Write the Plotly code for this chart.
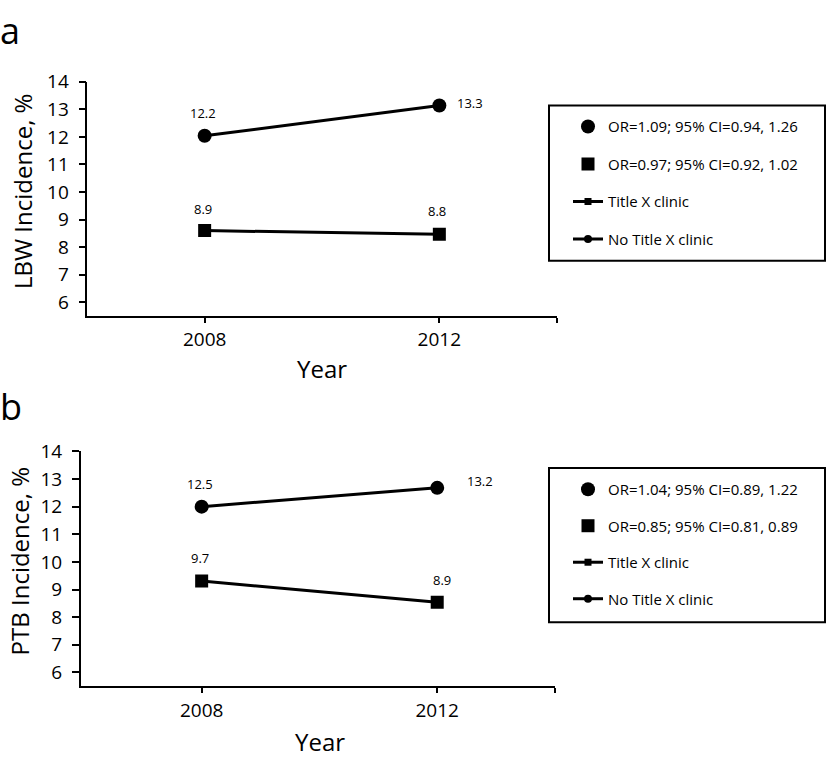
import plotly.graph_objects as go

# ---------------- data ----------------
years = [2008, 2012]

# Panel a: LBW incidence (plotted positions) and printed labels
lbw_no_titlex = [12.04, 13.14]
lbw_titlex = [8.60, 8.47]
lbw_no_titlex_labels = ["12.2", "13.3"]
lbw_titlex_labels = ["8.9", "8.8"]
lbw_or_labels = ["OR=1.09; 95% CI=0.94, 1.26", "OR=0.97; 95% CI=0.92, 1.02"]

# Panel b: PTB incidence
ptb_no_titlex = [12.0, 12.68]
ptb_titlex = [9.31, 8.54]
ptb_no_titlex_labels = ["12.5", "13.2"]
ptb_titlex_labels = ["9.7", "8.9"]
ptb_or_labels = ["OR=1.04; 95% CI=0.89, 1.22", "OR=0.85; 95% CI=0.81, 0.89"]

series_names = ["Title X clinic", "No Title X clinic"]
y_ticks = [6, 7, 8, 9, 10, 11, 12, 13, 14]
x_ticks = [2008, 2012, 2014]
x_ticktext = ["2008", "2012", ""]

FONT = "Open Sans"
W, H = 827, 758

fig = go.Figure()


def py(pix):
    return 1 - pix / H


def px(pix):
    return pix / W


def add_panel(xa, ya, legend_name, no_tx, tx, no_tx_lab, tx_lab, or_labels,
              shifts_no, shifts_tx):
    # data lines
    fig.add_trace(go.Scatter(
        x=years, y=no_tx, mode="lines+markers", xaxis=xa, yaxis=ya,
        line=dict(color="black", width=3),
        marker=dict(symbol="circle", size=14, color="black"),
        showlegend=False, name=series_names[1]))
    fig.add_trace(go.Scatter(
        x=years, y=tx, mode="lines+markers", xaxis=xa, yaxis=ya,
        line=dict(color="black", width=3),
        marker=dict(symbol="square", size=13, color="black"),
        showlegend=False, name=series_names[0]))
    # legend entries
    fig.add_trace(go.Scatter(
        x=[None], y=[None], mode="markers", xaxis=xa, yaxis=ya,
        marker=dict(symbol="circle", size=14, color="black"),
        name=or_labels[0], legend=legend_name, legendgroup=legend_name + "1"))
    fig.add_trace(go.Scatter(
        x=[None], y=[None], mode="markers", xaxis=xa, yaxis=ya,
        marker=dict(symbol="square", size=13, color="black"),
        name=or_labels[1], legend=legend_name, legendgroup=legend_name + "2"))
    fig.add_trace(go.Scatter(
        x=[None], y=[None], mode="lines+markers", xaxis=xa, yaxis=ya,
        line=dict(color="black", width=3),
        marker=dict(symbol="square", size=7, color="black"),
        name=series_names[0], legend=legend_name, legendgroup=legend_name + "3"))
    fig.add_trace(go.Scatter(
        x=[None], y=[None], mode="lines+markers", xaxis=xa, yaxis=ya,
        line=dict(color="black", width=3),
        marker=dict(symbol="circle", size=8, color="black"),
        name=series_names[1], legend=legend_name, legendgroup=legend_name + "4"))
    # value labels
    for i, yr in enumerate(years):
        fig.add_annotation(x=yr, y=no_tx[i], xref=xa, yref=ya, text=no_tx_lab[i],
                           showarrow=False, xshift=shifts_no[i][0], yshift=shifts_no[i][1],
                           font=dict(family=FONT, size=13, color="black"))
        fig.add_annotation(x=yr, y=tx[i], xref=xa, yref=ya, text=tx_lab[i],
                           showarrow=False, xshift=shifts_tx[i][0], yshift=shifts_tx[i][1],
                           font=dict(family=FONT, size=13, color="black"))


add_panel("x", "y", "legend", lbw_no_titlex, lbw_titlex,
          lbw_no_titlex_labels, lbw_titlex_labels, lbw_or_labels,
          [(-2, 23), (31, 2)], [(-2, 22), (-2, 23)])
add_panel("x2", "y2", "legend2", ptb_no_titlex, ptb_titlex,
          ptb_no_titlex_labels, ptb_titlex_labels, ptb_or_labels,
          [(-2, 23), (43, 7)], [(-2, 23), (5, 22)])

axis_common = dict(showline=True, linecolor="black", linewidth=1.5,
                   ticks="outside", tickcolor="black", tickwidth=1.5,
                   showgrid=False, zeroline=False,
                   tickfont=dict(family=FONT, size=19, color="black"))

fig.update_layout(
    width=W, height=H,
    margin=dict(l=0, r=0, t=0, b=0),
    paper_bgcolor="white", plot_bgcolor="white",
    font=dict(family=FONT, color="black"),
    xaxis=dict(domain=[px(87.3), px(556.7)], anchor="y", range=[2006, 2014],
               tickvals=x_ticks, ticktext=x_ticktext, ticklen=5,
               ticklabelstandoff=0, **axis_common),
    yaxis=dict(domain=[py(308.5), py(70)], anchor="x", range=[5.494, 14],
               tickvals=y_ticks, ticklen=7, ticklabelstandoff=6, **axis_common),
    xaxis2=dict(domain=[px(80.7), px(555)], anchor="y2", range=[2005.946, 2014],
                tickvals=x_ticks, ticktext=x_ticktext, ticklen=5,
                ticklabelstandoff=1, **axis_common),
    yaxis2=dict(domain=[py(685), py(446)], anchor="x2", range=[5.502, 14],
                tickvals=y_ticks, ticklen=7, ticklabelstandoff=6, **axis_common),
    legend=dict(x=px(568), y=py(99), xanchor="left", yanchor="top",
                bgcolor="rgba(0,0,0,0)", borderwidth=0,
                traceorder="grouped", tracegroupgap=15,
                font=dict(family=FONT, size=15, color="black")),
    legend2=dict(x=px(568), y=py(468), xanchor="left", yanchor="top",
                 bgcolor="rgba(0,0,0,0)", borderwidth=0,
                 traceorder="grouped", tracegroupgap=14,
                 font=dict(family=FONT, size=15, color="black")),
    shapes=[
        dict(type="rect", xref="paper", yref="paper",
             x0=px(549), x1=px(825), y0=py(252), y1=py(94),
             line=dict(color="black", width=2)),
        dict(type="rect", xref="paper", yref="paper",
             x0=px(549), x1=px(825), y0=py(620), y1=py(463),
             line=dict(color="black", width=2)),
    ],
)

# panel letters and axis titles
texts = [
    ("a", -0.003, py(18), 0, 36, "left"),
    ("b", -0.003, py(400), 0, 36, "left"),
    ("LBW Incidence, %", px(22.5), py(181.7), -90, 24, "center"),
    ("PTB Incidence, %", px(19), py(558), -90, 24, "center"),
    ("Year", px(321.7), py(362), 0, 24, "center"),
    ("Year", px(320), py(741), 0, 24, "center"),
]
for t, x, y, ang, sz, xa in texts:
    fig.add_annotation(x=x, y=y, xref="paper", yref="paper", text=t, showarrow=False,
                       textangle=ang, xanchor=xa, yanchor="middle",
                       font=dict(family=FONT, size=sz, color="black"))

post = (
    "document.body.style.margin='0';"
    "document.body.style.overflow='hidden';"
    "var gd=document.getElementsByClassName('plotly-graph-div')[0];"
    "gd.style.position='fixed';gd.style.top='0px';gd.style.left='0px';"
)
fig.write_html("out.html", config={"displayModeBar": False}, post_script=post)
